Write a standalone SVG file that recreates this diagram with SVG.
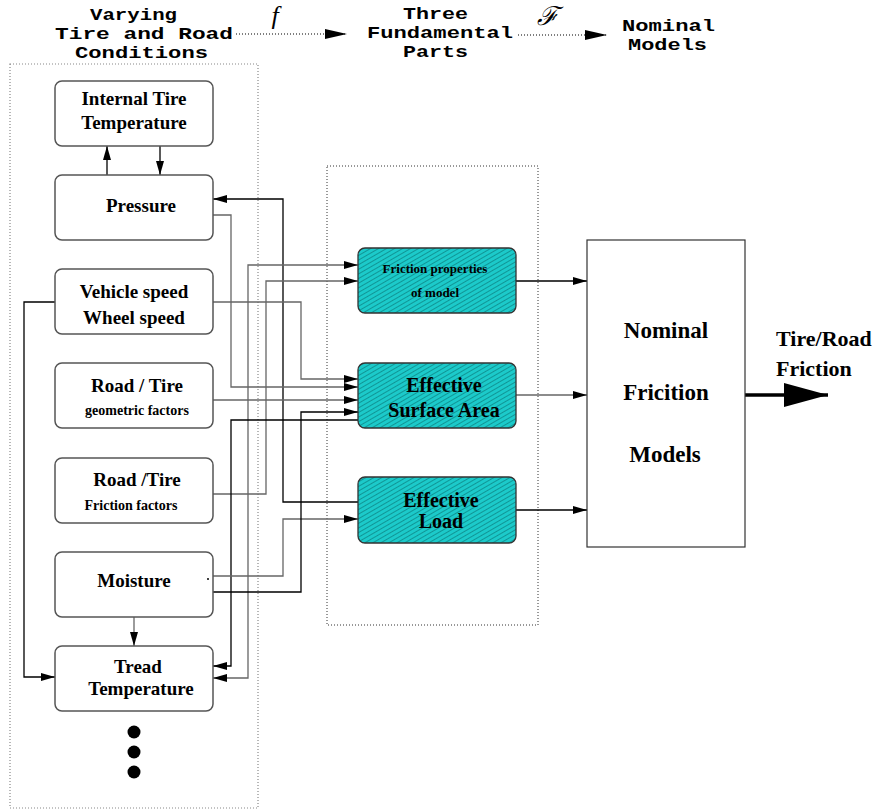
<svg xmlns="http://www.w3.org/2000/svg" width="892" height="812" viewBox="0 0 892 812">
  <style>
    .hdr { font-family: "Liberation Mono", "DejaVu Sans Mono", monospace; font-weight: bold; font-size: 17px; fill: #000; }
    .lbl { font-family: "Liberation Serif", "Times New Roman", serif; font-weight: bold; fill: #000; text-anchor: middle; }
    .box { fill: #fff; stroke: #555; stroke-width: 1.5; }
    .part { fill: url(#hatch); stroke: #333; stroke-width: 1.3; }
    .frame { fill: none; stroke-dasharray: 1 2; }
    .wire { fill: none; stroke: #000; stroke-width: 1.3; }
    .grey { stroke: #666; }
  </style>
  <defs>
    <marker id="arr" viewBox="0 0 14 8" refX="14" refY="4" markerWidth="14" markerHeight="8" markerUnits="userSpaceOnUse" orient="auto-start-reverse">
      <path d="M0,0 L14,4 L0,8 z" fill="#000"/>
    </marker>
    <marker id="mid" viewBox="0 0 22 10" refX="22" refY="5" markerWidth="22" markerHeight="10" markerUnits="userSpaceOnUse" orient="auto">
      <path d="M0,0 L22,5 L0,10 z" fill="#000"/>
    </marker>
    <marker id="big" viewBox="0 0 44 24" refX="44" refY="12" markerWidth="44" markerHeight="24" markerUnits="userSpaceOnUse" orient="auto">
      <path d="M0,0 L44,12 L0,24 z" fill="#000"/>
    </marker>
    <pattern id="hatch" width="4" height="4" patternUnits="userSpaceOnUse" patternTransform="rotate(-30)">
      <rect width="4" height="4" fill="#1ccaca"/>
      <line x1="0" y1="0.5" x2="4" y2="0.5" stroke="#0e8f8f" stroke-width="0.9"/>
    </pattern>
  </defs>

  <!-- header row: conditions -f-> parts -F-> models -->
  <g id="header">
    <text class="hdr" x="90" y="20" textLength="87" lengthAdjust="spacingAndGlyphs">Varying</text>
    <text class="hdr" x="55" y="39" textLength="178" lengthAdjust="spacingAndGlyphs">Tire and Road</text>
    <text class="hdr" x="75" y="58" textLength="133" lengthAdjust="spacingAndGlyphs">Conditions</text>
    <text class="hdr" x="403" y="19" textLength="65" lengthAdjust="spacingAndGlyphs">Three</text>
    <text class="hdr" x="367" y="38" textLength="146" lengthAdjust="spacingAndGlyphs">Fundamental</text>
    <text class="hdr" x="403" y="57" textLength="65" lengthAdjust="spacingAndGlyphs">Parts</text>
    <text class="hdr" x="622" y="31" textLength="93" lengthAdjust="spacingAndGlyphs">Nominal</text>
    <text class="hdr" x="628" y="50" textLength="79" lengthAdjust="spacingAndGlyphs">Models</text>
    <text x="275" y="24" font-family="Liberation Serif, serif" font-style="italic" font-size="26" text-anchor="middle">f</text>
    <text x="547" y="25" font-family="DejaVu Serif, serif" font-style="italic" font-size="26" text-anchor="middle">ℱ</text>
    <path class="frame" d="M236,34 H347" stroke="#000" stroke-width="1.2" marker-end="url(#mid)"/>
    <path class="frame" d="M518,35 H607" stroke="#000" stroke-width="1.2" marker-end="url(#mid)"/>
  </g>

  <!-- dotted grouping frames -->
  <rect class="frame" x="10" y="64" width="248" height="744" stroke="#888" stroke-width="1.2"/>
  <rect class="frame" x="327" y="166" width="211" height="459" stroke="#333" stroke-width="1"/>

  <!-- connectors -->
  <g id="connectors">
    <path class="wire" d="M107,175 V146" marker-end="url(#arr)"/>
    <path class="wire" d="M160,146 V175" marker-end="url(#arr)"/>
    <path class="wire" d="M358,502 H283 V199 H213" marker-end="url(#arr)"/>
    <path class="wire grey" d="M213,215 H231 V387 H358" marker-end="url(#arr)"/>
    <path class="wire grey" d="M213,302 H301 V379 H358" marker-end="url(#arr)"/>
    <path class="wire" d="M55,302 H24 V677 H55" marker-end="url(#arr)"/>
    <path class="wire grey" d="M213,400 H358" marker-end="url(#arr)"/>
    <path class="wire grey" d="M213,494 H266 V281 H358" marker-end="url(#arr)"/>
    <path class="wire grey" d="M358,265 H248 V678 H213" marker-start="url(#arr)" marker-end="url(#arr)"/>
    <path class="wire" d="M358,420 H231 V666 H213" marker-end="url(#arr)"/>
    <path class="wire grey" d="M213,576 H283 V519 H358" marker-end="url(#arr)"/>
    <path class="wire" d="M213,592 H301 V412 H358" marker-end="url(#arr)"/>
    <path class="wire grey" d="M134,617 V646" marker-end="url(#arr)"/>
    <path class="wire" d="M516,281 H587" marker-end="url(#arr)"/>
    <path class="wire grey" d="M516,395 H587" marker-end="url(#arr)"/>
    <path class="wire" d="M516,510 H587" marker-end="url(#arr)"/>
    <path d="M745,395 H828" fill="none" stroke="#000" stroke-width="3.5" marker-end="url(#big)"/>
  </g>

  <!-- conditions -->
  <g id="internal-tire-temperature">
    <rect class="box" x="55" y="81" width="158" height="65" rx="7"/>
    <text class="lbl" x="134" y="105" font-size="19">Internal Tire</text>
    <text class="lbl" x="134" y="129" font-size="19">Temperature</text>
  </g>
  <g id="pressure">
    <rect class="box" x="55" y="175" width="158" height="65" rx="7"/>
    <text class="lbl" x="141" y="212" font-size="19">Pressure</text>
  </g>
  <g id="vehicle-speed">
    <rect class="box" x="55" y="269" width="158" height="65" rx="7"/>
    <text class="lbl" x="134" y="298" font-size="19">Vehicle speed</text>
    <text class="lbl" x="134" y="324" font-size="19">Wheel speed</text>
  </g>
  <g id="road-tire-geometric">
    <rect class="box" x="55" y="363" width="158" height="65" rx="7"/>
    <text class="lbl" x="137" y="392" font-size="19">Road / Tire</text>
    <text class="lbl" x="137" y="415" font-size="14">geometric factors</text>
  </g>
  <g id="road-tire-friction">
    <rect class="box" x="55" y="458" width="158" height="65" rx="7"/>
    <text class="lbl" x="137" y="486" font-size="19">Road /Tire</text>
    <text class="lbl" x="131" y="510" font-size="14">Friction factors</text>
  </g>
  <g id="moisture">
    <rect class="box" x="55" y="552" width="158" height="65" rx="7"/>
    <text class="lbl" x="134" y="587" font-size="19">Moisture</text>
    <circle cx="208" cy="579" r="1" fill="#000"/>
  </g>
  <g id="tread-temperature">
    <rect class="box" x="55" y="646" width="158" height="65" rx="7"/>
    <text class="lbl" x="138" y="673" font-size="19">Tread</text>
    <text class="lbl" x="141" y="695" font-size="19">Temperature</text>
  </g>
  <g id="more">
    <circle cx="134" cy="732" r="6.5" fill="#000"/>
    <circle cx="134" cy="752" r="6.5" fill="#000"/>
    <circle cx="134" cy="772" r="6.5" fill="#000"/>
  </g>

  <!-- fundamental parts -->
  <g id="friction-properties">
    <rect class="part" x="358" y="248" width="158" height="65" rx="7"/>
    <text class="lbl" x="435" y="273" font-size="13">Friction properties</text>
    <text class="lbl" x="435" y="297" font-size="13">of model</text>
  </g>
  <g id="effective-surface-area">
    <rect class="part" x="358" y="363" width="158" height="65" rx="7"/>
    <text class="lbl" x="444" y="392" font-size="20">Effective</text>
    <text class="lbl" x="444" y="417" font-size="20">Surface Area</text>
  </g>
  <g id="effective-load">
    <rect class="part" x="358" y="477" width="158" height="66" rx="7"/>
    <text class="lbl" x="441" y="507" font-size="20">Effective</text>
    <text class="lbl" x="441" y="528" font-size="20">Load</text>
  </g>

  <!-- nominal models -->
  <g id="nominal-friction-models">
    <rect x="587" y="240" width="158" height="307" fill="#fff" stroke="#333" stroke-width="1.2"/>
    <text class="lbl" x="666" y="338" font-size="23">Nominal</text>
    <text class="lbl" x="666" y="400" font-size="23">Fricition</text>
    <text class="lbl" x="665" y="462" font-size="23">Models</text>
  </g>
  <g id="output">
    <text class="lbl" x="776" y="346" font-size="22" style="text-anchor: start">Tire/Road</text>
    <text class="lbl" x="776" y="376" font-size="22" style="text-anchor: start">Friction</text>
  </g>
</svg>
